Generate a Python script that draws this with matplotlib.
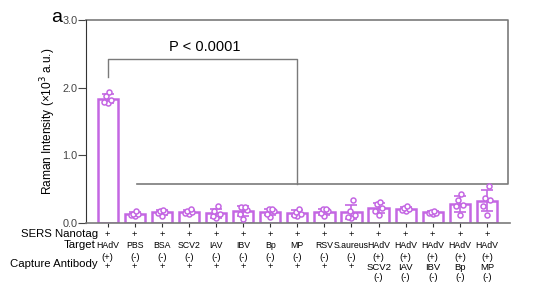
import numpy as np
import matplotlib.pyplot as plt

plt.rcParams['font.family'] = ['Liberation Sans', 'DejaVu Sans']

# column labels (target line 1/2, optional second target line 3/4)
target = ['HAdV', 'PBS', 'BSA', 'SCV2', 'IAV', 'IBV', 'Bp', 'MP', 'RSV', 'S.aureus',
          'HAdV', 'HAdV', 'HAdV', 'HAdV', 'HAdV']
target_sign = ['(+)', '(-)', '(-)', '(-)', '(-)', '(-)', '(-)', '(-)', '(-)', '(-)',
               '(+)', '(+)', '(+)', '(+)', '(+)']
second_target = ['', '', '', '', '', '', '', '', '', '',
                 'SCV2', 'IAV', 'IBV', 'Bp', 'MP']
capture = ['+'] * 10 + [''] * 5

# replicate intensities (x10^3 a.u.)
points = [
    [1.77, 1.78, 1.82, 1.87, 1.93],
    [0.10, 0.12, 0.13, 0.13, 0.18],
    [0.10, 0.14, 0.16, 0.18, 0.19],
    [0.13, 0.15, 0.16, 0.17, 0.20],
    [0.07, 0.10, 0.13, 0.17, 0.24],
    [0.06, 0.13, 0.19, 0.23, 0.23],
    [0.09, 0.13, 0.17, 0.20, 0.20],
    [0.10, 0.11, 0.13, 0.16, 0.21],
    [0.10, 0.14, 0.17, 0.20, 0.20],
    [0.07, 0.08, 0.12, 0.17, 0.33],
    [0.12, 0.18, 0.22, 0.27, 0.31],
    [0.17, 0.19, 0.21, 0.22, 0.25],
    [0.13, 0.14, 0.15, 0.16, 0.18],
    [0.12, 0.24, 0.26, 0.34, 0.42],
    [0.12, 0.25, 0.34, 0.37, 0.54],
]
jitter = [0.0, -0.13, 0.13, -0.06, 0.06]

purple = '#C467E3'
gray = '#7a7a7a'

fig = plt.figure(figsize=(5.46, 2.88), dpi=100)
ax = fig.add_axes([0.1575, 0.2267, 0.7765, 0.7039])

x = np.arange(len(target))
means = [np.mean(p) for p in points]
sds = [np.std(p, ddof=1) for p in points]

ax.bar(x, means, width=0.75, facecolor='white', edgecolor=purple, linewidth=1.8, zorder=2)
ax.errorbar(x, means, yerr=sds, fmt='none', ecolor=purple, elinewidth=1.2,
            capsize=4, capthick=1.2, zorder=3)
for i, p in enumerate(points):
    ax.scatter(x[i] + np.array(jitter), p, s=13, facecolor='white',
               edgecolor=purple, linewidth=1.1, zorder=4)

ax.set_xlim(-0.8, 14.85)
ax.set_ylim(0, 3.0)
ax.set_yticks([0.0, 1.0, 2.0, 3.0])
ax.set_yticklabels(['0.0', '1.0', '2.0', '3.0'], fontsize=7.8, color='#444444')
ax.set_xticks(x)
ax.set_xticklabels([])
ax.tick_params(axis='x', length=3, width=0.8, colors='#333333')
ax.tick_params(axis='y', length=5.5, width=0.8, colors='#444444', pad=0.5)
ax.spines['top'].set_visible(False)
ax.spines['right'].set_visible(False)
ax.spines['left'].set_color('#333333')
ax.spines['bottom'].set_color(gray)
ax.spines['bottom'].set_linewidth(1.2)
ax.set_ylabel('Raman Intensity (×10$^3$ a.u.)', fontsize=8.6, labelpad=3)

# significance brackets
ax.plot([0, 0, 7, 7], [2.16, 2.42, 2.42, 0.58], color=gray, lw=1, clip_on=False)
ax.plot([1.1, 14.78, 14.78, -0.8], [0.58, 0.58, 3.0, 3.0], color=gray, lw=1.2,
        clip_on=False)
ax.text(3.6, 2.5, 'P < 0.0001', fontsize=10.5, ha='center', va='bottom')

# label rows under the axis
def ypos(py):
    return (288 - py) / 288

rows = [235, 246, 257, 267, 278]
for i in x:
    xf = ax.transData.transform((i, 0))[0] / fig.bbox.width
    fig.text(xf, ypos(rows[0]), '+', fontsize=6.8, ha='center', va='center')
    fig.text(xf, ypos(rows[1]), target[i], fontsize=6.3, ha='center', va='center')
    fig.text(xf, ypos(rows[2]), target_sign[i], fontsize=6.8, ha='center', va='center')
    if capture[i]:
        fig.text(xf, ypos(rows[3]), capture[i], fontsize=6.8, ha='center', va='center')
    if second_target[i]:
        fig.text(xf, ypos(rows[3]), second_target[i], fontsize=6.8, ha='center', va='center')
        fig.text(xf, ypos(rows[4]), '(-)', fontsize=6.8, ha='center', va='center')

fig.text(98 / 546, ypos(234), 'SERS Nanotag', fontsize=8.2, ha='right', va='center')
fig.text(96 / 546, ypos(245), 'Target', fontsize=8.2, ha='right', va='center')
fig.text(98 / 546, ypos(264), 'Capture Antibody', fontsize=8.2, ha='right', va='center')

fig.text(51 / 546, ypos(17), 'a', fontsize=14, ha='left', va='center')

fig.savefig('out.png', dpi=100)
